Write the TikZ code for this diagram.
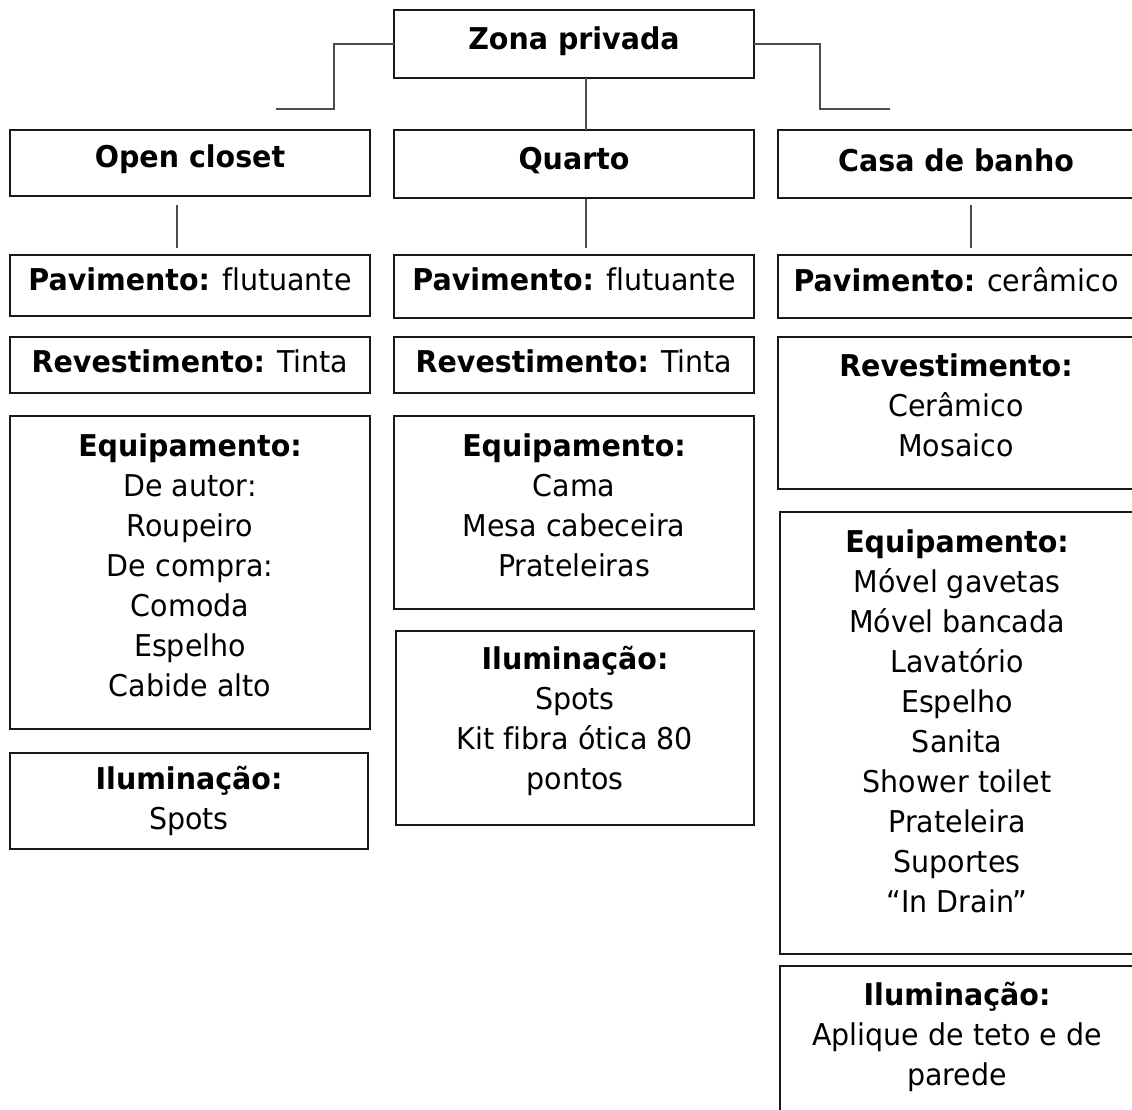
\documentclass[tikz,border=0pt]{standalone}
\usepackage{fontspec}
\setmainfont{DejaVu Sans}[FakeStretch=0.95, Ligatures=NoCommon]
\usetikzlibrary{calc}
\tikzset{
  box/.style={draw=black!90, line width=1.9pt, rectangle, inner sep=0pt, outer sep=0pt},
  txt/.style={align=center, inner sep=0pt, text=black, font=\fontsize{30}{40}\selectfont},
  conn/.style={draw=black!70, line width=1.9pt}
}
\newcommand\bx[5]{\node[box, minimum width={#4-#2}, minimum height={#5-#3}] (#1) at ({(#2+#4)/2},{(#3+#5)/2}) {};}
\begin{document}
\begin{tikzpicture}[x=1pt,y=-1pt]
\useasboundingbox (0,0) rectangle (1132,1109);
% boxes
\bx{zona}{394}{10}{754}{78}
\bx{oc}{10}{130}{370}{196}
\bx{qt}{394}{130}{754}{198}
\bx{cb}{778}{130}{1134}{198}
\bx{ocPav}{10}{255}{370}{316}
\bx{ocRev}{10}{337}{370}{393}
\bx{ocEq}{10}{416}{370}{729}
\bx{ocIl}{10}{753}{368}{849}
\bx{qtPav}{394}{255}{754}{318}
\bx{qtRev}{394}{337}{754}{393}
\bx{qtEq}{394}{416}{754}{609}
\bx{qtIl}{396}{631}{754}{825}
\bx{cbPav}{778}{255}{1134}{318}
\bx{cbRev}{778}{337}{1134}{489}
\bx{cbEq}{780}{512}{1134}{954}
\bx{cbIl}{780}{966}{1134}{1130}
% texts
\node[txt] (zonaT) at ([yshift=3pt]zona.center) {\textbf{Zona privada}};
\node[txt] (ocT) at ([yshift=4pt]oc.center) {\textbf{Open closet}};
\node[txt] (qtT) at ([yshift=3pt]qt.center) {\textbf{Quarto}};
\node[txt] (cbT) at ([yshift=4pt]cb.center) {\textbf{Casa de banho}};
\node[txt] (ocPavT) at ([yshift=6pt]ocPav.center) {\textbf{Pavimento:} flutuante};
\node[txt] (qtPavT) at ([yshift=7pt]qtPav.center) {\textbf{Pavimento:} flutuante};
\node[txt] (cbPavT) at ([yshift=7pt]cbPav.center) {\textbf{Pavimento:} cerâmico};
\node[txt] (ocRevT) at ([yshift=4pt]ocRev.center) {\textbf{Revestimento:} Tinta};
\node[txt] (qtRevT) at ([yshift=4pt]qtRev.center) {\textbf{Revestimento:} Tinta};
\node[txt] (cbRevT) at ([yshift=8pt]cbRev.center) {\textbf{Revestimento:}\\Cerâmico\\Mosaico};
\node[txt] (ocEqT) at ([yshift=7pt]ocEq.center) {\textbf{Equipamento:}\\De autor:\\Roupeiro\\De compra:\\Comoda\\Espelho\\Cabide alto};
\node[txt] (qtEqT) at ([yshift=7pt]qtEq.center) {\textbf{Equipamento:}\\Cama\\Mesa cabeceira\\Prateleiras};
\node[txt] (cbEqT) at ([yshift=12pt]cbEq.center) {\textbf{Equipamento:}\\Móvel gavetas\\Móvel bancada\\Lavatório\\Espelho\\Sanita\\Shower toilet\\Prateleira\\Suportes\\“In Drain”};
\node[txt] (ocIlT) at ([yshift=0pt]ocIl.center) {\textbf{Iluminação:}\\Spots};
\node[txt] (qtIlT) at ([yshift=7pt]qtIl.center) {\textbf{Iluminação:}\\Spots\\Kit fibra ótica 80\\pontos};
\node[txt] (cbIlT) at (957,1037) {\textbf{Iluminação:}\\Aplique de teto e de\\parede};
% connectors
\coordinate (lk) at (334,109);
\coordinate (lend) at (276,109);
\coordinate (rk) at (820,109);
\coordinate (rend) at (890,109);
\draw[conn] (zona.west) -| (lk) -- (lend);
\draw[conn] (zona.east) -| (rk) -- (rend);
\coordinate (qx) at (586,0);
\coordinate (ocx) at (177,0);
\coordinate (cbx) at (971,0);
\draw[conn] (zona.south -| qx) -- (qt.north -| qx);
\draw[conn, shorten <=9pt, shorten >=7pt] (oc.south -| ocx) -- (ocPav.north -| ocx);
\draw[conn, shorten <=1pt, shorten >=7pt] (qt.south -| qx) -- (qtPav.north -| qx);
\draw[conn, shorten <=7pt, shorten >=7pt] (cb.south -| cbx) -- (cbPav.north -| cbx);
\end{tikzpicture}
\end{document}
